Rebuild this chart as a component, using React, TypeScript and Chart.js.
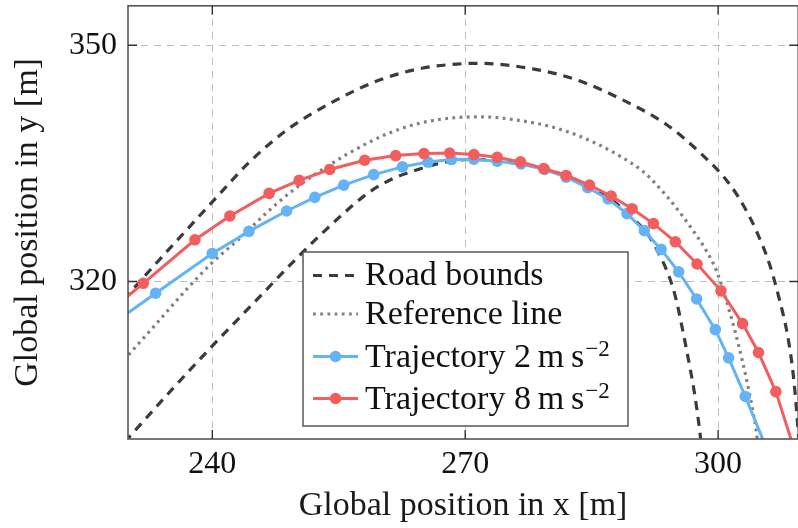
import { useEffect, useRef } from 'react';
import { Chart, registerables } from 'chart.js';

Chart.register(...registerables);

const FONT = "'Liberation Serif', 'Times New Roman', serif";

// Axis limits and tick positions
const xLimits = [230, 309.5];
const yLimits = [300, 355];
const xTicks = [240, 270, 300];
const yTicks = [320, 350];

// Outer road boundary
const outerBoundX = [229.5, 233.0, 237.0, 240.0, 244.45, 248.8, 254.3, 259.9, 265.0, 269.0, 271.5, 278.0, 283.2, 288.6, 293.9, 298.1, 301.4, 303.5, 304.5, 306.1, 307.3, 308.2, 308.8, 309.2, 309.6];
const outerBoundY = [317.7, 321.9, 326.6, 330.1, 335.2, 339.2, 342.8, 345.6, 347.1, 347.6, 347.7, 347.0, 345.6, 343.1, 339.9, 336.1, 332.3, 328.7, 326.5, 322.2, 317.6, 313.4, 309.2, 305.0, 299.5];

// Inner road boundary
const innerBoundX = [229.6, 235.4, 239.9, 244.85, 249.6, 253.3, 256.7, 258.7, 261.5, 263.8, 266.2, 268.4, 271.0, 273.7, 279.2, 282.0, 284.7, 287.1, 289.5, 291.85, 292.8, 294.2, 295.0, 295.8, 296.6, 297.2, 297.8, 298.0];
const innerBoundY = [299.6, 306.5, 311.7, 317.2, 322.5, 326.4, 329.7, 331.4, 333.1, 334.0, 334.8, 335.3, 335.5, 335.3, 334.4, 333.4, 332.1, 330.6, 328.4, 325.7, 323.9, 320.6, 317.8, 313.8, 309.4, 305.8, 301.2, 299.3];

// Reference line
const referenceX = [229.5, 233.0, 236.95, 239.9, 243.7, 246.4, 249.6, 252.75, 255.9, 258.3, 260.65, 264.6, 268.9, 272.1, 276.05, 280.0, 283.9, 287.9, 291.05, 292.6, 295.0, 297.0, 298.6, 299.9, 301.7, 302.5, 303.3, 304.1, 304.5, 304.75];
const referenceY = [310.0, 314.2, 319.0, 322.3, 325.9, 328.7, 331.6, 334.0, 336.1, 337.5, 338.7, 340.1, 340.8, 340.9, 340.5, 339.7, 338.3, 336.2, 334.0, 332.4, 329.4, 326.5, 323.9, 321.1, 314.9, 311.6, 307.9, 303.7, 301.2, 299.0];

// Trajectory with 2 m/s^2
const traj2X = [226.7, 233.28, 239.99, 244.34, 248.81, 252.16, 255.59, 259.15, 262.55, 265.58, 268.36, 271.03, 273.8, 276.62, 279.41, 281.97, 284.53, 286.95, 289.2, 291.25, 293.23, 295.32, 297.45, 299.67, 301.24, 303.22, 305.9];
const traj2Y = [313.5, 318.51, 323.56, 326.36, 328.95, 330.68, 332.23, 333.56, 334.55, 335.16, 335.48, 335.52, 335.27, 334.92, 334.22, 333.24, 331.92, 330.47, 328.61, 326.45, 324.07, 321.22, 317.78, 313.89, 310.3, 305.4, 298.4];

// Trajectory with 8 m/s^2
const traj8X = [225.7, 231.81, 237.94, 242.09, 246.74, 250.3, 253.93, 258.08, 261.75, 265.11, 268.15, 271.03, 273.8, 276.56, 279.32, 281.97, 284.74, 287.31, 289.8, 292.32, 294.93, 297.5, 300.34, 302.9, 304.79, 306.85, 309.8];
const traj8Y = [314.3, 319.77, 325.29, 328.32, 331.19, 332.83, 334.22, 335.39, 335.98, 336.24, 336.31, 336.11, 335.77, 335.18, 334.34, 333.46, 332.24, 330.85, 329.24, 327.35, 325.04, 322.22, 318.81, 314.65, 310.98, 306.01, 296.1];

const ROAD = '#3b3b3b';
const REF = '#808080';
const BLUE = '#63b3f6';
const RED = '#f25e5e';
const ROAD_DASH = [9, 7];
const REF_DASH = [2.8, 4.4];

const CANVAS_W = 804;
const CANVAS_H = 528;

const zip = (xs: number[], ys: number[]) => xs.map((x, i) => ({ x, y: ys[i] }));

type LegendEntry = { text: string; sup?: string; color: string; dash: number[]; width: number; marker: boolean };

const legendEntries: LegendEntry[] = [
  { text: 'Road bounds', color: ROAD, dash: ROAD_DASH, width: 3.2, marker: false },
  { text: 'Reference line', color: REF, dash: REF_DASH, width: 3.2, marker: false },
  { text: 'Trajectory 2\u2009m\u2009s', sup: '\u22122', color: BLUE, dash: [], width: 3, marker: true },
  { text: 'Trajectory 8\u2009m\u2009s', sup: '\u22122', color: RED, dash: [], width: 3, marker: true },
];

const framePlugin = {
  id: 'frameAndLegend',
  afterDatasetsDraw(chart: any) {
    const { ctx, chartArea, scales } = chart;
    const { left, right, top, bottom } = chartArea;
    ctx.save();
    // axis box
    ctx.strokeStyle = '#555555';
    ctx.lineWidth = 1.6;
    ctx.setLineDash([]);
    ctx.strokeRect(left, top, right - left, bottom - top);
    // inward tick marks on all four sides
    ctx.strokeStyle = '#333333';
    ctx.lineWidth = 1.4;
    const tl = 9;
    xTicks.forEach((v) => {
      const px = scales.x.getPixelForValue(v);
      ctx.beginPath();
      ctx.moveTo(px, bottom); ctx.lineTo(px, bottom - tl);
      ctx.moveTo(px, top); ctx.lineTo(px, top + tl);
      ctx.stroke();
    });
    yTicks.forEach((v) => {
      const py = scales.y.getPixelForValue(v);
      ctx.beginPath();
      ctx.moveTo(left, py); ctx.lineTo(left + tl, py);
      ctx.moveTo(right, py); ctx.lineTo(right - tl, py);
      ctx.stroke();
    });

    // legend box
    const bx = 303, by = 252, bw = 325, bh = 174;
    ctx.fillStyle = '#ffffff';
    ctx.fillRect(bx, by, bw, bh);
    ctx.strokeStyle = '#4a4a4a';
    ctx.lineWidth = 1.4;
    ctx.strokeRect(bx, by, bw, bh);

    const sampleY = [275.5, 314, 356.5, 398.5];
    const baseY = [285, 323.5, 366.5, 409];
    legendEntries.forEach((e, i) => {
      ctx.strokeStyle = e.color;
      ctx.lineWidth = e.width;
      ctx.setLineDash(e.dash);
      ctx.beginPath();
      ctx.moveTo(313, sampleY[i]);
      ctx.lineTo(358, sampleY[i]);
      ctx.stroke();
      ctx.setLineDash([]);
      if (e.marker) {
        ctx.fillStyle = e.color;
        ctx.beginPath();
        ctx.arc(335.5, sampleY[i], 5.8, 0, Math.PI * 2);
        ctx.fill();
      }
      ctx.fillStyle = '#111111';
      ctx.textAlign = 'left';
      ctx.textBaseline = 'alphabetic';
      ctx.font = `34px ${FONT}`;
      ctx.fillText(e.text, 365, baseY[i]);
      if (e.sup) {
        const w = ctx.measureText(e.text).width;
        ctx.font = `23px ${FONT}`;
        ctx.fillText(e.sup, 365 + w + 1, baseY[i] - 11);
      }
    });
    ctx.restore();
  },
};

// keep the plot area fixed: no extra room reserved for half-labels at the ends
const fixPadding = (s: any) => {
  s.paddingTop = 0;
  s.paddingBottom = 0;
  s.paddingLeft = 0;
  s.paddingRight = 0;
};

export default function App() {
  const canvasRef = useRef<HTMLCanvasElement | null>(null);

  useEffect(() => {
    const canvas = canvasRef.current;
    if (!canvas) return;
    const curve = { fill: false, clip: 0, pointRadius: 0, cubicInterpolationMode: 'monotone' } as any;
    const traj = { fill: false, clip: 0, borderWidth: 3, pointRadius: 5.8, pointBorderWidth: 0, tension: 0 } as any;
    const chart = new Chart(canvas, {
      type: 'line',
      data: {
        datasets: [
          { ...curve, label: 'Road bounds', data: zip(outerBoundX, outerBoundY), borderColor: ROAD, borderWidth: 3.2, borderDash: ROAD_DASH, order: 5 },
          { ...curve, label: 'Road bounds', data: zip(innerBoundX, innerBoundY), borderColor: ROAD, borderWidth: 3.2, borderDash: ROAD_DASH, order: 4 },
          { ...curve, label: 'Reference line', data: zip(referenceX, referenceY), borderColor: REF, borderWidth: 3.2, borderDash: REF_DASH, order: 3 },
          { ...traj, label: 'Trajectory 2 m s^-2', data: zip(traj2X, traj2Y), borderColor: BLUE, backgroundColor: BLUE, pointBackgroundColor: BLUE, order: 2 },
          { ...traj, label: 'Trajectory 8 m s^-2', data: zip(traj8X, traj8Y), borderColor: RED, backgroundColor: RED, pointBackgroundColor: RED, order: 1 },
        ],
      },
      options: {
        responsive: false,
        animation: false,
        devicePixelRatio: 1,
        layout: { padding: { top: 5, right: CANVAS_W - 799, left: 0, bottom: 0 } },
        plugins: { legend: { display: false }, tooltip: { enabled: false } },
        scales: {
          x: {
            type: 'linear',
            min: xLimits[0],
            max: xLimits[1],
            afterBuildTicks: (s: any) => { s.ticks = xTicks.map((v) => ({ value: v })); },
            afterFit: (s: any) => { s.height = 89; fixPadding(s); },
            grid: { color: '#bdbdbd', lineWidth: 1, drawTicks: false },
            border: { display: false, dash: [7, 6] },
            ticks: { color: '#111111', font: { family: FONT, size: 32 }, padding: 6, maxRotation: 0 },
            title: { display: true, text: 'Global position in x [m]', color: '#1a1a1a', font: { family: FONT, size: 34, lineHeight: 1.2 }, padding: { top: 0, bottom: 2 } },
          },
          y: {
            type: 'linear',
            min: yLimits[0],
            max: yLimits[1],
            afterBuildTicks: (s: any) => { s.ticks = yTicks.map((v) => ({ value: v })); },
            afterFit: (s: any) => { s.width = 128; fixPadding(s); },
            grid: { color: '#bdbdbd', lineWidth: 1, drawTicks: false },
            border: { display: false, dash: [7, 6] },
            ticks: { color: '#111111', font: { family: FONT, size: 32 }, padding: 11 },
            title: { display: true, text: 'Global position in y [m]', color: '#1a1a1a', font: { family: FONT, size: 34, lineHeight: 1.2 }, padding: { top: 8, bottom: 0 } },
          },
        },
      } as any,
      plugins: [framePlugin],
    });
    return () => chart.destroy();
  }, []);

  return (
    <div style={{ position: 'fixed', left: 0, top: 0, width: 798, height: 528, overflow: 'hidden', background: '#ffffff' }}>
      <canvas ref={canvasRef} width={CANVAS_W} height={CANVAS_H} style={{ display: 'block', width: CANVAS_W, height: CANVAS_H }} />
    </div>
  );
}
